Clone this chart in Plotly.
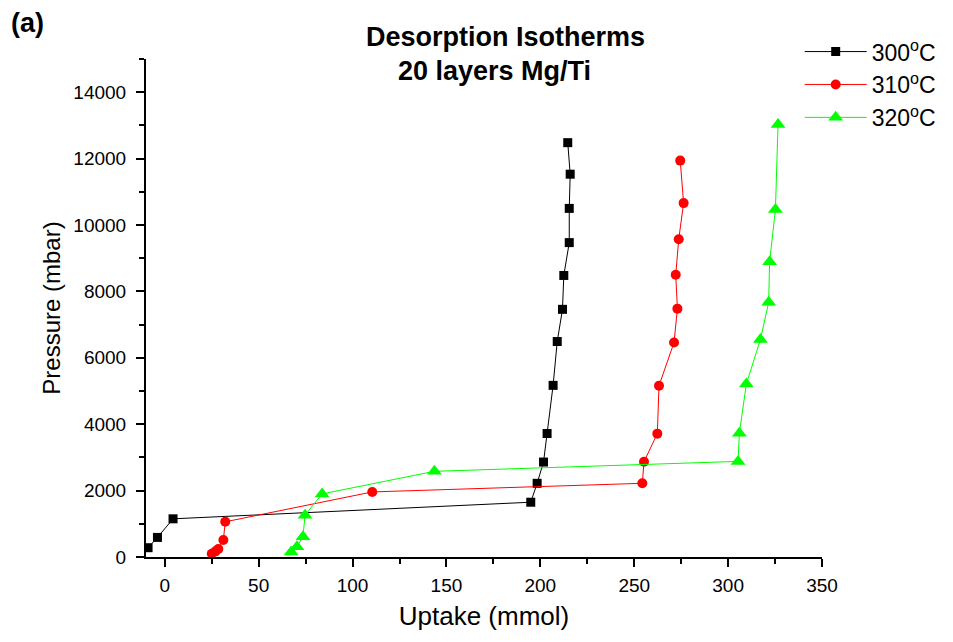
import plotly.graph_objects as go

# Desorption isotherm data, 20 layers Mg/Ti
uptake_300 = [-8.9, -3.9, 4.4, 194.9, 198.3, 201.7, 203.6, 206.8, 209.0, 211.8, 212.5, 215.4, 215.4, 215.9, 214.6]
pressure_300 = [280, 590, 1150, 1650, 2220, 2860, 3720, 5170, 6490, 7460, 8480, 9470, 10500, 11530, 12480]

uptake_310 = [25.0, 27.0, 28.5, 31.2, 32.2, 110.5, 254.3, 255.2, 262.3, 263.2, 271.2, 273.0, 272.1, 273.7, 276.3, 274.5]
pressure_310 = [100, 170, 240, 510, 1060, 1960, 2220, 2870, 3715, 5160, 6460, 7480, 8500, 9570, 10660, 11940]

uptake_320 = [67.3, 70.4, 73.6, 74.7, 83.8, 143.6, 305.3, 306.0, 309.7, 317.2, 321.6, 322.1, 325.2, 326.6]
pressure_320 = [150, 310, 610, 1260, 1900, 2580, 2880, 3730, 5210, 6550, 7670, 8890, 10470, 13030]

series = [
    ("300<sup>o</sup>C", uptake_300, pressure_300, "#000000", "square", 9),
    ("310<sup>o</sup>C", uptake_310, pressure_310, "#ff0000", "circle", 10),
    ("320<sup>o</sup>C", uptake_320, pressure_320, "#00ff00", "triangle-up", 13),
]

FONT = "Liberation Sans, Arial, sans-serif"

fig = go.Figure()
for name, xs, ys, color, symbol, size in series:
    fig.add_trace(go.Scatter(
        x=xs, y=ys, name=name, mode="lines+markers",
        line=dict(color=color, width=1),
        marker=dict(color=color, symbol=symbol, size=size, line=dict(width=0)),
        cliponaxis=True,
    ))

axis_common = dict(
    showline=True, linecolor="black", linewidth=2,
    ticks="outside", ticklen=8, tickwidth=2, tickcolor="black",
    showgrid=False, zeroline=False, mirror=False,
    tickfont=dict(family=FONT, size=19, color="black"),
    tickformat="d",
)

fig.update_xaxes(
    range=[-10, 350], tick0=0, dtick=50,
    minor=dict(ticks="outside", ticklen=5, tickwidth=2, tickcolor="black", dtick=25, tick0=0),
    title=dict(text="Uptake (mmol)", font=dict(family=FONT, size=26, color="black"), standoff=12),
    ticklabelstandoff=2,
    **axis_common,
)
fig.update_yaxes(
    range=[0, 15000], tick0=0, dtick=2000,
    minor=dict(ticks="outside", ticklen=5, tickwidth=2, tickcolor="black", dtick=1000, tick0=0),
    title=dict(text="Pressure (mbar)", font=dict(family=FONT, size=24, color="black"), standoff=6),
    ticklabelstandoff=6,
    **axis_common,
)

fig.add_annotation(text="<b>Desorption Isotherms</b>", xref="paper", yref="paper",
                   x=0.532, y=1.044, xanchor="center", yanchor="middle", showarrow=False,
                   font=dict(family=FONT, size=27, color="black"))
fig.add_annotation(text="<b>20 layers Mg/Ti</b>", xref="paper", yref="paper",
                   x=0.515, y=0.976, xanchor="center", yanchor="middle", showarrow=False,
                   font=dict(family=FONT, size=27, color="black"))
fig.add_annotation(text="<b>(a)</b>", xref="paper", yref="paper",
                   x=-0.203, y=1.072, xanchor="left", yanchor="middle", showarrow=False,
                   font=dict(family=FONT, size=27, color="black"))

fig.update_layout(
    width=953, height=642,
    margin=dict(l=146, r=131, t=59, b=85),
    paper_bgcolor="white", plot_bgcolor="white",
    font=dict(family=FONT, color="black"),
    legend=dict(
        x=0.967, y=1.058, xanchor="left", yanchor="top",
        font=dict(family=FONT, size=23, color="black"),
        bgcolor="rgba(0,0,0,0)", borderwidth=0,
        tracegroupgap=0, itemwidth=62,
    ),
)

fig.write_html("out.html")
